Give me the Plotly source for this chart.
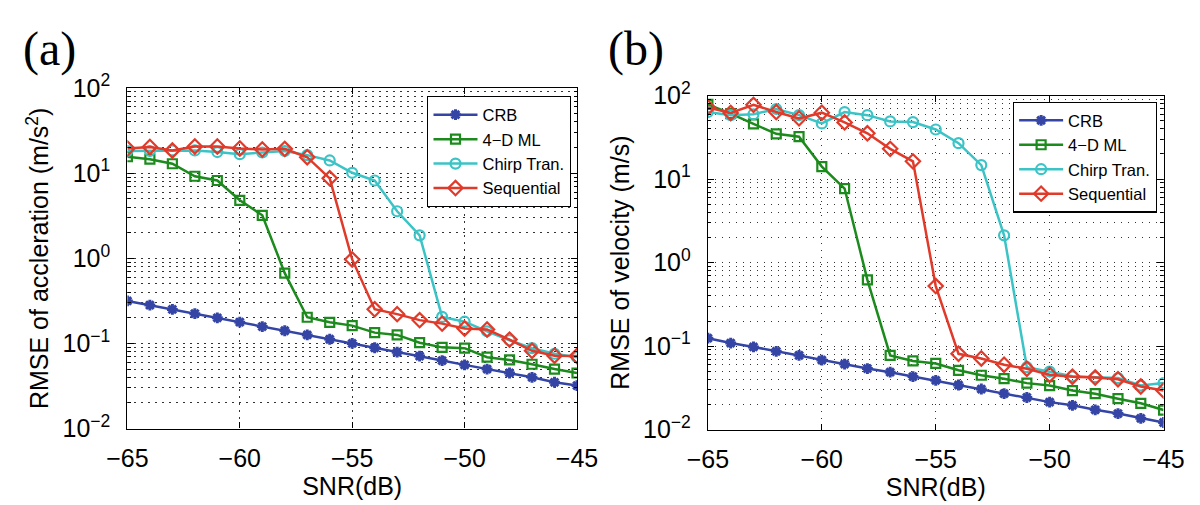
import plotly.graph_objects as go

# ---------------- data ----------------
snr = [-65, -64, -63, -62, -61, -60, -59, -58, -57, -56, -55,
       -54, -53, -52, -51, -50, -49, -48, -47, -46, -45]

series_names = ["CRB", "4\u2212D ML", "Chirp Tran.", "Sequential"]

# (a) RMSE of acceleration
crb_a = [0.316, 0.282, 0.251, 0.224, 0.200, 0.178, 0.158, 0.141, 0.126, 0.112, 0.100,
         0.089, 0.079, 0.071, 0.063, 0.056, 0.050, 0.045, 0.040, 0.035, 0.032]
ml_a = [15.6, 14.6, 12.9, 9.2, 8.2, 4.8, 3.2, 0.67, 0.203, 0.177, 0.162,
        0.134, 0.126, 0.102, 0.090, 0.088, 0.069, 0.064, 0.057, 0.050, 0.045]
chirp_a = [18.2, 18.2, 18.5, 18.5, 17.7, 16.7, 17.5, 18.2, 16.3, 14.1, 10.1,
           8.2, 3.57, 1.86, 0.205, 0.180, 0.139, 0.109, 0.088, 0.0757, 0.069]
seq_a = [19.5, 20.3, 18.5, 20.6, 20.6, 19.5, 19.0, 19.3, 15.4, 8.7, 0.97,
         0.252, 0.221, 0.188, 0.171, 0.150, 0.146, 0.111, 0.082, 0.0718, 0.0713]

# (b) RMSE of velocity
crb_b = [0.1245, 0.109, 0.098, 0.0868, 0.0776, 0.0682, 0.0611, 0.054, 0.0488, 0.0433, 0.039,
         0.0343, 0.0307, 0.027, 0.0243, 0.0214, 0.0196, 0.0173, 0.0156, 0.0137, 0.0122]
ml_b = [78.5, 60.7, 45.7, 34.8, 32.2, 14.1, 7.7, 0.622, 0.0776, 0.0665, 0.0621,
        0.0514, 0.0449, 0.0408, 0.0361, 0.0338, 0.0294, 0.0270, 0.0235, 0.0207, 0.0172]
chirp_b = [63.4, 58.2, 59.7, 69.0, 58.2, 46.4, 63.4, 58.2, 49.0, 48.1, 39.2,
           26.9, 14.7, 2.12, 0.056, 0.0497, 0.0436, 0.0425, 0.0415, 0.0338, 0.0362]
seq_b = [72.0, 61.8, 77.3, 63.4, 53.3, 62.3, 47.7, 35.3, 23.0, 16.3, 0.524,
         0.081, 0.0713, 0.060, 0.0537, 0.0455, 0.0431, 0.0421, 0.0402, 0.0329, 0.0295]

x_ticks = [-65, -60, -55, -50, -45]
y_tickvals = [0.01, 0.1, 1, 10, 100]
y_ticktext = ["10<sup>\u22122</sup>", "10<sup>\u22121</sup>", "10<sup>0</sup>",
              "10<sup>1</sup>", "10<sup>2</sup>"]
y_minor = [m * d for d in [0.01, 0.1, 1, 10] for m in [2, 3, 4, 5, 6, 7, 8, 9]]

# ---------------- styles ----------------
colors = ["#3445a6", "#1c8a1c", "#3cc3c6", "#e03a2a"]
symbols = ["asterisk-open", "square-open", "circle-open", "diamond-open"]
sizes = [9, 9, 10, 11]
FONT = "Liberation Sans, Arial, sans-serif"
SERIF = "Liberation Serif, Times New Roman, serif"

W, H = 1192, 497   # page body has an 8px margin
OFF = 8


def px_x(p):
    return (p - OFF) / W


def px_y(p):
    return (H - (p - OFF)) / H


fig = go.Figure()

for panel, (vals, xa, ya, lg) in enumerate([
        ([crb_a, ml_a, chirp_a, seq_a], "x", "y", "legend"),
        ([crb_b, ml_b, chirp_b, seq_b], "x2", "y2", "legend2")]):
    for i, v in enumerate(vals):
        fig.add_trace(go.Scatter(
            x=snr, y=v, name=series_names[i], mode="lines+markers",
            xaxis=xa, yaxis=ya, legend=lg,
            line=dict(color=colors[i], width=2.5),
            marker=dict(symbol=symbols[i], size=sizes[i], color=colors[i],
                        line=dict(color=colors[i], width=2.2 if i else 3)),
        ))

grid_dash = "1.5px,5.5px"
xcommon = dict(range=[-65, -45], tickvals=x_ticks, ticks="inside", ticklen=6,
               tickcolor="black", showline=True, linecolor="black", linewidth=1.3,
               mirror="ticks", showgrid=True, gridcolor="#333", gridwidth=1,
               griddash=grid_dash, zeroline=False,
               tickfont=dict(family=FONT, size=25, color="black"),
               ticklabelstandoff=7,
               title=dict(text="SNR(dB)", font=dict(family=FONT, size=25, color="black"),
                          standoff=0))
ycommon = dict(type="log", range=[-2, 2], tickvals=y_tickvals, ticktext=y_ticktext,
               ticks="inside", ticklen=6, tickcolor="black", showline=True,
               linecolor="black", linewidth=1.3, mirror="ticks", showgrid=True,
               gridcolor="#333", gridwidth=1, griddash=grid_dash, zeroline=False,
               tickfont=dict(family=FONT, size=25, color="black"),
               ticklabelstandoff=11,
               minor=dict(tickvals=y_minor, ticks="inside", ticklen=3, tickcolor="black",
                          showgrid=True, gridcolor="#333", gridwidth=1, griddash=grid_dash))

legend_common = dict(bgcolor="white", bordercolor="black", borderwidth=1.3,
                     font=dict(family=FONT, size=16.5, color="black"),
                     xanchor="right", yanchor="top", tracegroupgap=0,
                     itemwidth=44)

fig.update_layout(
    width=W, height=H, paper_bgcolor="white", plot_bgcolor="white",
    margin=dict(l=0, r=0, t=0, b=0),
    showlegend=True,
    xaxis=dict(domain=[px_x(110), px_x(576)], anchor="y", **xcommon),
    yaxis=dict(domain=[px_y(438.3), px_y(74.3)], anchor="x",
               title=dict(text="RMSE of accleration (m/s<sup>2</sup>)",
                          font=dict(family=FONT, size=25, color="black"), standoff=6),
               **ycommon),
    xaxis2=dict(domain=[px_x(711.7), px_x(1184)], anchor="y2", **xcommon),
    yaxis2=dict(domain=[px_y(439.5), px_y(82.3)], anchor="x2",
                title=dict(text="RMSE of velocity (m/s)",
                           font=dict(family=FONT, size=25, color="black"), standoff=6),
                **ycommon),
    legend=dict(x=px_x(570), y=px_y(83), **legend_common),
    legend2=dict(x=px_x(1177), y=px_y(89), **legend_common),
    annotations=[
        dict(text="(a)", x=px_x(0), y=px_y(2), xref="paper", yref="paper", xanchor="left",
             yanchor="top", showarrow=False,
             font=dict(family=SERIF, size=48, color="black")),
        dict(text="(b)", x=px_x(606), y=px_y(2), xref="paper", yref="paper", xanchor="left",
             yanchor="top", showarrow=False,
             font=dict(family=SERIF, size=48, color="black")),
    ],
)

fig.write_html("out.html")
